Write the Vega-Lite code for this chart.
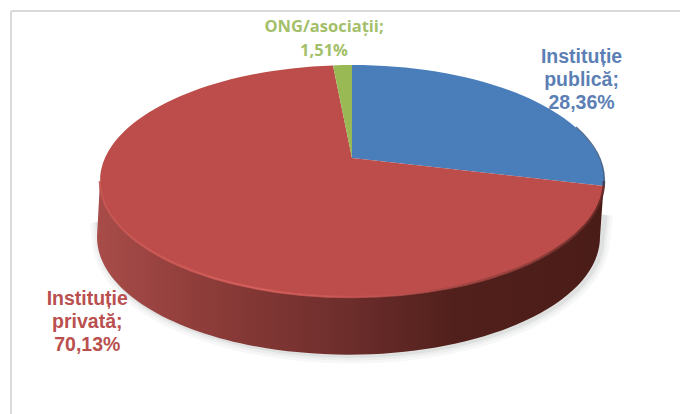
{
  "$schema": "https://vega.github.io/schema/vega-lite/v6.json",
  "autosize": {"type": "fit", "contains": "padding"},
  "width": 680,
  "height": 414,
  "padding": 0,
  "background": "white",
  "view": {"stroke": null},
  "config": {"style": {"cell": {"stroke": null}}},
  "datasets": {
    "slices": [
      {"slice": "Instituție publică", "share": 28.36, "rank": 1, "label": "Instituție\npublică;\n28,36%"},
      {"slice": "Instituție privată", "share": 70.13, "rank": 2, "label": "Instituție\nprivată;\n70,13%"},
      {"slice": "ONG/asociații", "share": 1.51, "rank": 3, "label": "ONG/asociații;\n1,51%"}
    ]
  },
  "data": {"name": "slices"},
  "layer": [
    {
      "transform": [{"filter": "datum.rank == 1"}],
      "mark": {"type": "point", "clip": true, "shape": "M-329,-196 H345 M-329,-196 V215", "size": 4, "filled": false, "stroke": "#d9d9d9", "strokeWidth": 2, "opacity": 1}
    },
    {
      "transform": [{"filter": "datum.rank == 1"}],
      "mark": {"type": "point", "shape": "M-242,15 Q-241,22 -240,30 A248 116 0 0 0 262,32 Q264,20 265,8", "size": 4, "filled": false, "stroke": "#c8cccc", "strokeWidth": 16, "opacity": 0.14}
    },
    {
      "transform": [{"filter": "datum.rank == 1"}],
      "mark": {"type": "point", "shape": "M-242,15 Q-241,22 -240,30 A248 116 0 0 0 262,32 Q264,20 265,8", "size": 4, "filled": false, "stroke": "#c8cccc", "strokeWidth": 10, "opacity": 0.2}
    },
    {
      "transform": [{"filter": "datum.rank == 1"}],
      "mark": {"type": "point", "shape": "M-242,15 Q-241,22 -240,30 A248 116 0 0 0 262,32 Q264,20 265,8", "size": 4, "filled": false, "stroke": "#c0c4c4", "strokeWidth": 5, "opacity": 0.3}
    },
    {
      "transform": [{"filter": "datum.rank == 1"}],
      "mark": {
        "type": "point",
        "shape": "M264,-26 L260,30 A248 116 0 0 1 -243,30 L-240,-26 A252 116 0 0 0 264,-26 Z",
        "size": 4,
        "filled": true,
        "opacity": 1,
        "fill": {
          "gradient": "linear", "x1": 0, "x2": 1, "y1": 0, "y2": 0,
          "stops": [
            {"offset": 0, "color": "#a84c49"},
            {"offset": 0.2, "color": "#8f3d3a"},
            {"offset": 0.5, "color": "#6c2d2b"},
            {"offset": 0.7, "color": "#52201c"},
            {"offset": 1, "color": "#4a1c18"}
          ]
        }
      }
    },
    {
      "mark": {"type": "point", "size": 4, "filled": true, "opacity": 1},
      "encoding": {
        "shape": {
          "field": "slice",
          "type": "nominal",
          "legend": null,
          "scale": {
            "domain": ["Instituție publică", "Instituție privată", "ONG/asociații"],
            "range": [
              "M12,-49 L12,-142 A252 116 0 0 1 264,-21 Z",
              "M12,-49 L264,-21 A252 116 0 1 1 -7,-141.6 Z",
              "M12,-49 L-7,-141.6 A252 116 0 0 1 12,-142 Z"
            ]
          }
        },
        "color": {
          "field": "slice",
          "type": "nominal",
          "legend": null,
          "scale": {
            "domain": ["Instituție publică", "Instituție privată", "ONG/asociații"],
            "range": ["#4a7ebb", "#bd4d4a", "#98b954"]
          }
        }
      }
    },
    {
      "transform": [{"filter": "datum.rank == 1"}],
      "mark": {
        "type": "point",
        "shape": "M-240,-26 A252 116 0 0 0 264,-26",
        "size": 4,
        "filled": false,
        "strokeWidth": 2.5,
        "opacity": 0.85,
        "stroke": {
          "gradient": "linear", "x1": 0, "x2": 1, "y1": 0, "y2": 0,
          "stops": [
            {"offset": 0, "color": "#c4524f"},
            {"offset": 0.3, "color": "#d8605c"},
            {"offset": 0.55, "color": "#c25350"},
            {"offset": 0.85, "color": "#8a3c38"},
            {"offset": 1, "color": "#5a2420"}
          ]
        }
      }
    },
    {
      "transform": [{"filter": "datum.rank == 1"}],
      "mark": {"type": "point", "shape": "M236,-80 A252 116 0 0 1 264,-21", "size": 4, "filled": false, "stroke": "#2c4d75", "strokeWidth": 1.5, "opacity": 0.8}
    },
    {
      "transform": [
        {"stack": "share", "groupby": [], "sort": [{"field": "rank", "order": "ascending"}], "as": ["a0", "a1"]},
        {"calculate": "(datum.a0 + datum.a1) / 2", "as": "mid"},
        {"filter": "datum.rank == 1"}
      ],
      "mark": {"type": "text", "font": "Liberation Sans", "fontWeight": "bold", "fontSize": 19.5, "lineHeight": 23, "lineBreak": "\n", "align": "center", "baseline": "middle", "radius": 272, "dx": 30, "dy": 21, "color": "#5b7fb5"},
      "encoding": {
        "theta": {"field": "mid", "type": "quantitative", "scale": {"domain": [0, 100]}},
        "text": {"field": "label"}
      }
    },
    {
      "transform": [
        {"stack": "share", "groupby": [], "sort": [{"field": "rank", "order": "ascending"}], "as": ["a0", "a1"]},
        {"calculate": "(datum.a0 + datum.a1) / 2", "as": "mid"},
        {"filter": "datum.rank == 2"}
      ],
      "mark": {"type": "text", "font": "Liberation Sans", "fontWeight": "bold", "fontSize": 19.5, "lineHeight": 23, "lineBreak": "\n", "align": "center", "baseline": "middle", "radius": 250, "dx": -66, "dy": -74, "color": "#b9504f"},
      "encoding": {
        "theta": {"field": "mid", "type": "quantitative", "scale": {"domain": [0, 100]}},
        "text": {"field": "label"}
      }
    },
    {
      "transform": [
        {"stack": "share", "groupby": [], "sort": [{"field": "rank", "order": "ascending"}], "as": ["a0", "a1"]},
        {"calculate": "(datum.a0 + datum.a1) / 2", "as": "mid"},
        {"filter": "datum.rank == 3"}
      ],
      "mark": {"type": "text", "font": "Open Sans", "fontWeight": "bold", "fontSize": 16.5, "lineHeight": 24, "lineBreak": "\n", "align": "center", "baseline": "middle", "radius": 168, "dx": -8, "dy": -12, "color": "#a3bf6a"},
      "encoding": {
        "theta": {"field": "mid", "type": "quantitative", "scale": {"domain": [0, 100]}},
        "text": {"field": "label"}
      }
    }
  ]
}
